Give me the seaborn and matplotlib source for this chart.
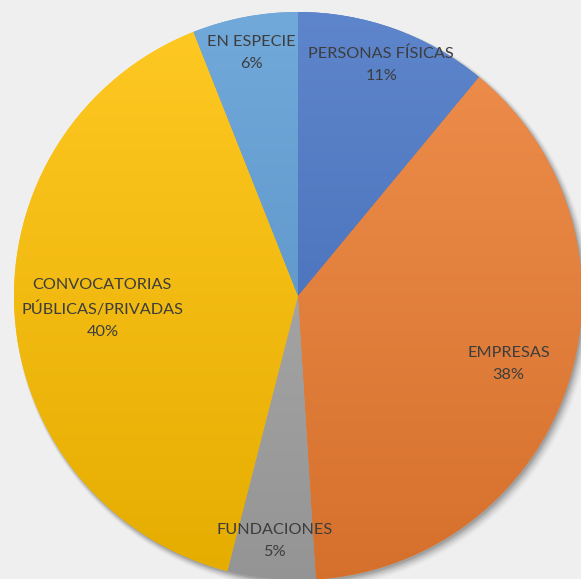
import numpy as np
import matplotlib
matplotlib.use("Agg")
import matplotlib.pyplot as plt
import matplotlib.colors as mcolors
from matplotlib.patches import Circle
import seaborn as sns

categories = ["PERSONAS FÍSICAS", "EMPRESAS", "FUNDACIONES",
              "CONVOCATORIAS\nPÚBLICAS/PRIVADAS", "EN ESPECIE"]
values = [11, 38, 5, 40, 6]
colors = ["#4472C4", "#ED7D31", "#A5A5A5", "#FFC000", "#5B9BD5"]
label_radius = [0.865, 0.78, 0.865, 0.69, 0.87]

sns.set_style("white")
plt.rcParams["font.family"] = ["Lato", "DejaVu Sans"]

W, H = 581, 579
fig = plt.figure(figsize=(W / 100, H / 100), dpi=100)
fig.patch.set_facecolor("#EFEFEF")
ax = fig.add_axes([0, 0, 1, 1])
ax.set_facecolor("#EFEFEF")

R = 284.0
cx, cy = 298.0, 296.0

# soft shadow
for i, a in enumerate(np.linspace(0.10, 0.02, 6)):
    ax.add_patch(Circle((0.006 + i * 0.002, -0.008 - i * 0.002), 1.0 + i * 0.003,
                        facecolor="black", alpha=a, edgecolor="none", zorder=0))

wedges, _ = ax.pie(values, colors=colors, startangle=90, counterclock=False,
                   radius=1.0, wedgeprops=dict(edgecolor="none", linewidth=0))


def shade(c, f):
    rgb = np.array(mcolors.to_rgb(c))
    if f > 0:
        return rgb + (1 - rgb) * f
    return rgb * (1 + f)


grad_y = np.linspace(0, 1, 256)[:, None]
for w, c in zip(wedges, colors):
    top = shade(c, 0.14)
    bot = shade(c, -0.10)
    img = top[None, None, :] * (1 - grad_y[..., None]) + bot[None, None, :] * grad_y[..., None]
    img = np.repeat(img, 2, axis=1)
    im = ax.imshow(img, extent=(-1, 1, -1, 1), origin="upper", zorder=2,
                   interpolation="bilinear")
    im.set_clip_path(w)
    w.set_zorder(1)

total = sum(values)
for w, cat, v, r in zip(wedges, categories, values, label_radius):
    mid = np.deg2rad((w.theta1 + w.theta2) / 2)
    ax.text(r * np.cos(mid), r * np.sin(mid), f"{cat}\n{round(100 * v / total)}%",
            ha="center", va="center", fontsize=11.7, color="#3D3D3D",
            linespacing=1.72, zorder=5)

ax.set_xlim(-cx / R, (W - cx) / R)
ax.set_ylim(-(H - cy) / R, cy / R)
ax.set_aspect("equal")
ax.axis("off")

fig.savefig("out.png", dpi=100, facecolor=fig.get_facecolor())
